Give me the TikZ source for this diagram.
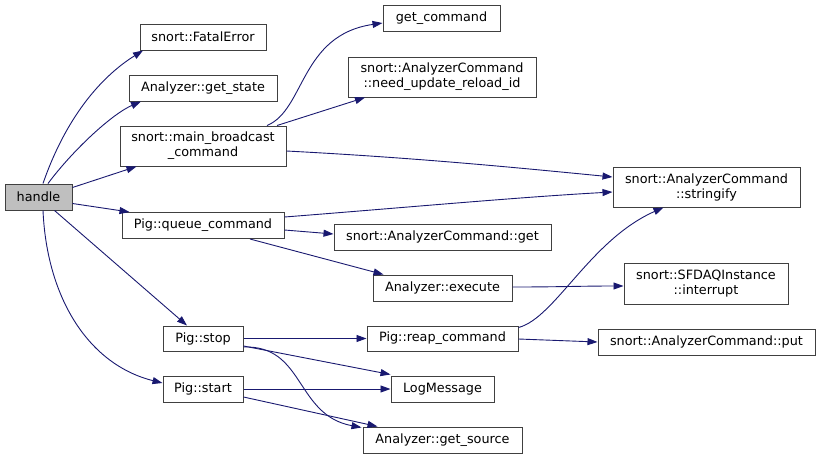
\documentclass[tikz,border=0pt]{standalone}
\usepackage{fontspec}
\setmainfont{DejaVu Sans}
\usetikzlibrary{arrows.meta}
\definecolor{edgeblue}{HTML}{191970}
\definecolor{boxline}{HTML}{404040}
\tikzset{
  fn/.style={draw=boxline, line width=1pt, fill=white, inner sep=0pt, align=center,
    font=\fontsize{12.8}{15}\selectfont, text=black},
  call/.style={draw=edgeblue, line width=0.9pt, -{Triangle[length=10pt,width=7pt]}},
}
\begin{document}
\begin{tikzpicture}[x=1pt,y=-1pt]
\useasboundingbox (0,0) rectangle (820,459);
% nodes
\node[fn, fill={rgb,255:red,191;green,191;blue,191}, minimum width=67pt, minimum height=26pt] (handle) at (38.5,197) {handle};
\node[fn, minimum width=126pt, minimum height=26pt] (fatal) at (203,37) {snort::FatalError};
\node[fn, minimum width=148pt, minimum height=26pt] (getstate) at (203,88) {Analyzer::get\_state};
\node[fn, minimum width=166pt, minimum height=40pt] (mainbc) at (203,146) {snort::main\_broadcast\\\_command};
\node[fn, minimum width=162pt, minimum height=26pt] (queue) at (203,225.5) {Pig::queue\_command};
\node[fn, minimum width=117pt, minimum height=26pt] (getcmd) at (441.5,18.5) {get\_command};
\node[fn, minimum width=188pt, minimum height=40pt] (needupd) at (442,77) {snort::AnalyzerCommand\\::need\_update\_reload\_id};
\node[fn, minimum width=187pt, minimum height=40pt] (stringify) at (706.5,187) {snort::AnalyzerCommand\\::stringify};
\node[fn, minimum width=217pt, minimum height=26pt] (acget) at (442.5,237) {snort::AnalyzerCommand::get};
\node[fn, minimum width=139pt, minimum height=26pt] (execute) at (442.5,288) {Analyzer::execute};
\node[fn, minimum width=164pt, minimum height=41pt] (interrupt) at (706,283.5) {snort::SFDAQInstance\\::interrupt};
\node[fn, minimum width=80pt, minimum height=25pt] (stop) at (203,338.5) {Pig::stop};
\node[fn, minimum width=151pt, minimum height=25pt] (reap) at (442.5,338.5) {Pig::reap\_command};
\node[fn, minimum width=217pt, minimum height=26pt] (put) at (706.5,342) {snort::AnalyzerCommand::put};
\node[fn, minimum width=80pt, minimum height=26pt] (start) at (203,389) {Pig::start};
\node[fn, minimum width=103pt, minimum height=26pt] (logmsg) at (442.5,389) {LogMessage};
\node[fn, minimum width=159pt, minimum height=26pt] (getsource) at (442.5,440) {Analyzer::get\_source};
% edges
\draw[call] ([xshift=4.5pt]handle.north) .. controls (65,120) and (99,78) .. ([xshift=-60pt]fatal.south);
\draw[call] ([xshift=9.5pt]handle.north) .. controls (73,150) and (112,114) .. ([xshift=-62pt]getstate.south);
\draw[call] ([yshift=-4pt]handle.north east) -- ([xshift=17pt]mainbc.south west);
\draw[call] ([yshift=7pt]handle.south east) -- ([xshift=8pt]queue.north west);
\draw[call] ([xshift=16pt]handle.south) -- ([xshift=-16pt]stop.north);
\draw[call] ([xshift=4.5pt]handle.south) .. controls (47,300) and (90,365) .. ([yshift=6pt]start.west);
\draw[call] ([xshift=64pt]mainbc.north) .. controls (305,110) and (300,35) .. ([yshift=-4.5pt]getcmd.west);
\draw[call] ([xshift=74pt]mainbc.north) -- ([xshift=-77pt]needupd.south);
\draw[call] ([yshift=-5pt]mainbc.east) .. controls (420,158) and (520,168) .. ([yshift=10pt]stringify.west);
\draw[call] ([yshift=8.5pt]queue.east) .. controls (400,208) and (520,197) .. ([yshift=-5pt]stringify.west);
\draw[call] ([yshift=-4.5pt]queue.east) -- ([yshift=3pt]acget.west);
\draw[call] ([xshift=47pt]queue.south) -- ([xshift=-59pt]execute.north);
\draw[call] ([yshift=1pt]execute.east) .. controls (560,287) and (580,286) .. ([yshift=-2.5pt]interrupt.west);
\draw[call] (stop.east) -- (reap.west);
\draw[call] ([yshift=-7.5pt]stop.east) -- ([xshift=0pt,yshift=1pt]logmsg.north west);
\draw[call] ([yshift=-8.5pt]stop.east) .. controls (305,345) and (295,415) .. ([xshift=-1pt,yshift=-1pt]getsource.north west);
\draw[call] (start.east) -- (logmsg.west);
\draw[call] ([yshift=-8pt]start.east) -- ([xshift=15pt]getsource.north west);
\draw[call] ([yshift=11pt]reap.east) .. controls (555,318) and (590,240) .. ([xshift=-43pt]stringify.south);
\draw[call] ([yshift=-0.5pt]reap.east) -- (put.west);
\end{tikzpicture}
\end{document}
